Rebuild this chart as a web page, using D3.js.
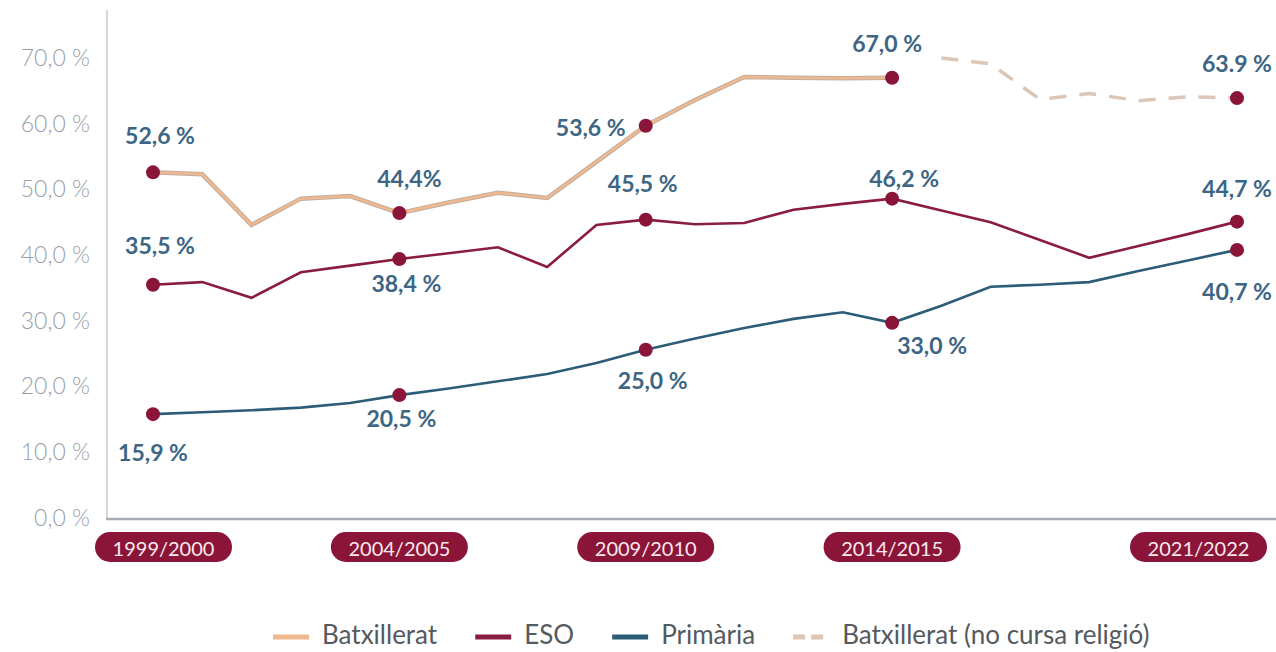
<html lang="ca">
  <head>
    <meta charset="utf-8">
    <title>Alumnat que no cursa religió</title>
    <script src="https://d3js.org/d3.v7.min.js"></script>
    <style>
      body { margin: 0; background: #fff; }
      text { font-family: Lato, "Open Sans", sans-serif; }
    </style>
  </head>
  <body>
    <div id="viz"></div>
    <script type="text/javascript">
    // school years (x categories)
    var years = ["1999/2000", "2000/2001", "2001/2002", "2002/2003", "2003/2004",
                 "2004/2005", "2005/2006", "2006/2007", "2007/2008", "2008/2009",
                 "2009/2010", "2010/2011", "2011/2012", "2012/2013", "2013/2014",
                 "2014/2015", "2015/2016", "2016/2017", "2017/2018", "2018/2019",
                 "2019/2020", "2020/2021", "2021/2022"];

    // series values (%)
    var batx = [52.6, 52.3, 44.6, 48.6, 49.0, 46.4, 48.0, 49.5, 48.7, 54.2, 59.7, 63.6,
                67.1, 67.0, 66.9, 67.0, null, null, null, null, null, null, null];
    var batxNoRel = [null, null, null, null, null, null, null, null, null, null, null, null,
                     null, null, null, null, 70.0, 69.1, 63.7, 64.6, 63.5, 64.1, 63.9];
    var eso = [35.5, 35.9, 33.5, 37.4, 38.4, 39.4, 40.3, 41.2, 38.2, 44.6, 45.4, 44.7,
               44.9, 46.9, 47.8, 48.6, 46.8, 45.0, 42.3, 39.6, 41.4, 43.2, 45.1];
    var primaria = [15.8, 16.1, 16.4, 16.8, 17.5, 18.7, 19.7, 20.8, 21.9, 23.6, 25.6, 27.3,
                    28.9, 30.3, 31.3, 29.7, 32.3, 35.2, 35.5, 35.9, 37.6, 39.2, 40.8];

    // highlighted years and the printed labels
    var markedYears = ["1999/2000", "2004/2005", "2009/2010", "2014/2015", "2021/2022"];
    var batxLabels = ["52,6 %", "44,4%", "53,6 %", "67,0 %", "63.9 %"];
    var esoLabels = ["35,5 %", "38,4 %", "45,5 %", "46,2 %", "44,7 %"];
    var primLabels = ["15,9 %", "20,5 %", "25,0 %", "33,0 %", "40,7 %"];

    var yTicks = [0, 10, 20, 30, 40, 50, 60, 70];
    var legendNames = ["Batxillerat", "ESO", "Primària", "Batxillerat (no cursa religió)"];

    var w = 1276, h = 652;
    var maroon = "#8a1538";
    var labelColor = "#3d6584";

    var svg = d3.select("#viz").append("svg")
        .attr("width", w)
        .attr("height", h);

    var x = d3.scalePoint().domain(years).range([153, 1237]);
    var y = d3.scaleLinear().domain([0, 70]).range([518, 58]);

    // axis lines
    svg.append("line")
        .attr("x1", 107).attr("x2", 107)
        .attr("y1", 10).attr("y2", 519)
        .attr("stroke", "#c9cdd1").attr("stroke-width", 1.5);
    svg.append("line")
        .attr("x1", 106).attr("x2", w)
        .attr("y1", 519).attr("y2", 519)
        .attr("stroke", "#a7adb2").attr("stroke-width", 2.5);

    // y axis labels
    var yAxis = svg.append("g")
        .attr("transform", "translate(107,0)")
        .call(d3.axisLeft(y)
            .tickValues(yTicks)
            .tickSize(0)
            .tickPadding(17)
            .tickFormat(function(d) { return d3.format(".1f")(d).replace(".", ",") + " %"; }));
    yAxis.select(".domain").remove();
    yAxis.selectAll("text")
        .style("font-family", "Lato, sans-serif")
        .style("font-weight", 300)
        .style("font-size", "23px")
        .attr("fill", "#98a1aa");

    // line generator skipping missing years
    var line = d3.line()
        .defined(function(d) { return d.v != null; })
        .x(function(d) { return x(d.year); })
        .y(function(d) { return y(d.v); });

    function toPoints(values) {
      return years.map(function(yr, i) { return { year: yr, v: values[i] }; });
    }

    // Primària
    svg.append("path").datum(toPoints(primaria))
        .attr("d", line).attr("fill", "none")
        .attr("stroke", "#2c5c78").attr("stroke-width", 2.6);
    // ESO
    svg.append("path").datum(toPoints(eso))
        .attr("d", line).attr("fill", "none")
        .attr("stroke", "#8a1d3f").attr("stroke-width", 2.6);
    // Batxillerat: grey edge + peach core
    svg.append("path").datum(toPoints(batx))
        .attr("d", line).attr("fill", "none")
        .attr("stroke", "#bfae9f").attr("stroke-width", 4.5);
    svg.append("path").datum(toPoints(batx))
        .attr("d", line).attr("fill", "none")
        .attr("stroke", "#efb88f").attr("stroke-width", 2.5);
    // Batxillerat (no cursa religió), dashed
    svg.append("path").datum(toPoints(batxNoRel))
        .attr("d", line).attr("fill", "none")
        .attr("stroke", "#dcc6b6").attr("stroke-width", 3.5)
        .attr("stroke-dasharray", "17,13");

    // dots and value labels
    // offsets of each label from its dot [dx, dy of text centre]
    var batxOff = [[7, -37], [10, -35], [-55, 1], [-5, -35], [0, -35]];
    var esoOff = [[7, -40], [7, 24], [-3, -37], [12, -21], [0, -34]];
    var primOff = [[0, 38], [2, 23], [7, 30], [40, 22], [0, 41]];

    function markSeries(values, labels, offs) {
      markedYears.forEach(function(yr, k) {
        var v = values[years.indexOf(yr)];
        if (v == null) return;
        var cx = x(yr), cy = y(v);
        svg.append("circle")
            .attr("cx", cx).attr("cy", cy).attr("r", 7)
            .attr("fill", maroon);
        svg.append("text")
            .attr("x", cx + offs[k][0])
            .attr("y", cy + offs[k][1])
            .attr("text-anchor", "middle")
            .attr("dominant-baseline", "central")
            .style("font-weight", 700)
            .style("font-size", "23px")
            .attr("fill", labelColor)
            .text(labels[k]);
      });
    }
    var batxAll = batx.map(function(v, i) { return v != null ? v : batxNoRel[i]; });
    markSeries(batxAll, batxLabels, batxOff);
    markSeries(eso, esoLabels, esoOff);
    markSeries(primaria, primLabels, primOff);

    // year pills under the axis
    var pillW = 137, pillH = 30;
    var pills = svg.selectAll(".pill").data(markedYears).enter()
        .append("g")
        .attr("class", "pill")
        .attr("transform", function(d) {
          var cx = Math.max(95 + pillW / 2, Math.min(1267 - pillW / 2, x(d)));
          return "translate(" + cx + ",547)";
        });
    pills.append("rect")
        .attr("x", -pillW / 2).attr("y", -pillH / 2)
        .attr("width", pillW).attr("height", pillH)
        .attr("rx", pillH / 2)
        .attr("fill", maroon);
    pills.append("text")
        .attr("text-anchor", "middle")
        .attr("dominant-baseline", "central")
        .attr("y", 1)
        .style("font-size", "20px")
        .attr("fill", "#fbe8ee")
        .text(function(d) { return d; });

    // legend
    var legendStyles = [
      { color: "#efb88f", dash: null },
      { color: "#8a1d3f", dash: null },
      { color: "#2c5c78", dash: null },
      { color: "#dcc6b6", dash: "12,6" }
    ];
    var lx = 273, ly = 634;
    legendNames.forEach(function(name, i) {
      svg.append("line")
          .attr("x1", lx).attr("x2", lx + 36)
          .attr("y1", ly + 3).attr("y2", ly + 3)
          .attr("stroke", legendStyles[i].color)
          .attr("stroke-width", 5)
          .attr("stroke-dasharray", legendStyles[i].dash);
      var t = svg.append("text")
          .attr("x", lx + 49).attr("y", ly)
          .attr("dominant-baseline", "central")
          .style("font-size", "26px")
          .attr("fill", "#555a5e")
          .text(name);
      lx += 49 + t.node().getComputedTextLength() + 38;
    });
    </script>
  </body>
</html>
